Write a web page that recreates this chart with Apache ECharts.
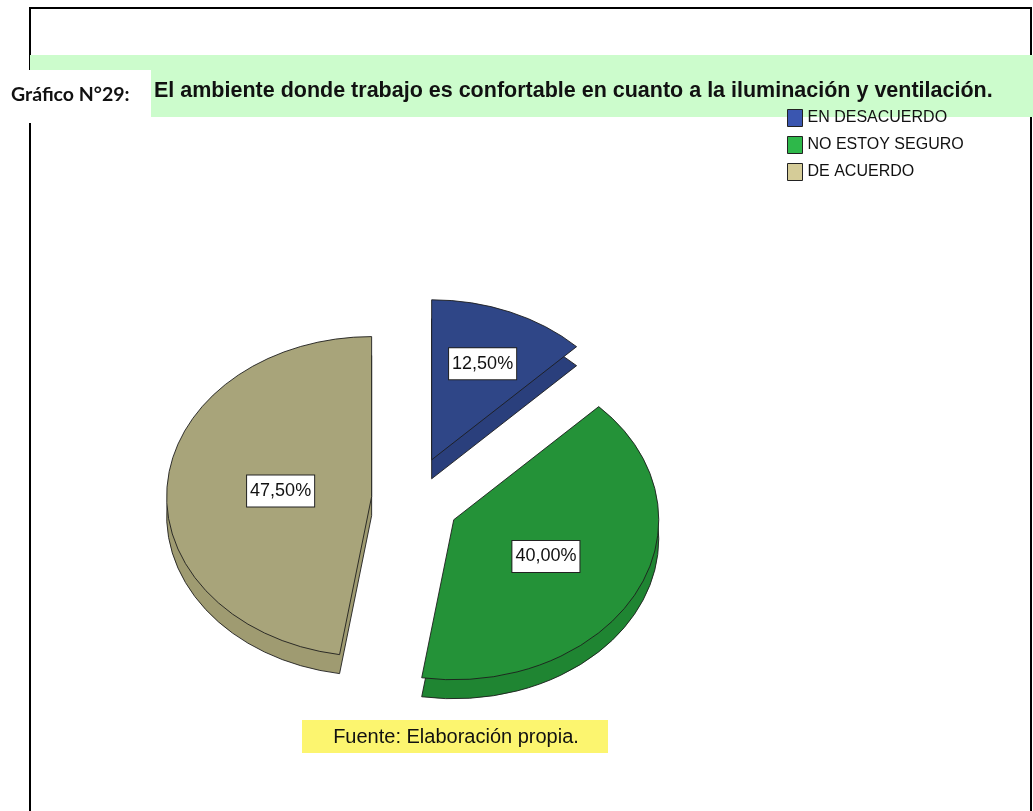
<!DOCTYPE html>
<html>
<head>
<meta charset="utf-8">
<script src="https://cdn.jsdelivr.net/npm/echarts@6/dist/echarts.min.js"></script>
<style>
  html, body { margin: 0; padding: 0; background: #fff; }
  #chart { width: 1033px; height: 811px; }
</style>
</head>
<body>
<div id="chart"></div>
<script>
// data
const categories = ['EN DESACUERDO', 'NO ESTOY SEGURO', 'DE ACUERDO'];
const values = [12.5, 40.0, 47.5];

// colours (pie top, pie side, legend swatch)
const topColors = ['#2f4687', '#249238', '#a8a47a'];
const sideColors = ['#2a3f7c', '#1f8532', '#9f9b71'];
const legendColors = ['#3a56b0', '#2eb84a', '#d5cc98'];

const FONT = "'Liberation Sans', Arial, sans-serif";

// pie geometry (SPSS style tilted, exploded pie)
const PIE = { cx: 415, cy: 500, rx: 205, ry: 160, depth: 19, explode: 43.5 };

const total = values.reduce((a, b) => a + b, 0);

function pctLabel(v) {
    return (v / total * 100).toFixed(2).replace('.', ',') + '%';
}

function makeSlice(i) {
    return function (params, api) {
        const v = api.value(0);
        const before = values.slice(0, i).reduce((a, b) => a + b, 0);
        const a0 = before / total * Math.PI * 2;
        const a1 = (before + v) / total * Math.PI * 2;
        const mid = (a0 + a1) / 2;
        // explode along the middle angle (clockwise from 12 o'clock)
        const ox = PIE.cx + PIE.explode * Math.sin(mid);
        const oy = PIE.cy - PIE.explode * Math.cos(mid);
        const k = PIE.ry / PIE.rx;

        const sector = (dy, fill) => ({
            type: 'sector',
            x: ox,
            y: oy + dy,
            scaleY: k,
            shape: {
                cx: 0, cy: 0, r0: 0, r: PIE.rx,
                startAngle: a0 - Math.PI / 2,
                endAngle: a1 - Math.PI / 2,
                clockwise: true
            },
            style: { fill: fill, stroke: '#1c1c1c', lineWidth: 1, strokeNoScale: true }
        });

        // label at the centroid of the slice
        const alpha = a1 - a0;
        const c = 4 * Math.sin(alpha / 2) / (3 * alpha);
        const lx = ox + c * PIE.rx * Math.sin(mid);
        const ly = oy - c * PIE.ry * Math.cos(mid);

        return {
            type: 'group',
            children: [
                sector(PIE.depth, sideColors[i]),
                sector(0, topColors[i]),
                {
                    type: 'text',
                    x: lx,
                    y: ly,
                    z2: 10,
                    style: {
                        text: pctLabel(v),
                        fontFamily: FONT,
                        fontSize: 18,
                        fill: '#111',
                        align: 'center',
                        verticalAlign: 'middle',
                        backgroundColor: '#fff',
                        borderColor: '#222',
                        borderWidth: 1,
                        padding: [7, 3, 6, 3]
                    }
                }
            ]
        };
    };
}

const chart = echarts.init(document.getElementById('chart'));

const option = {
    animation: false,
    backgroundColor: '#fff',
    title: {
        text: 'El ambiente donde trabajo es confortable en cuanto a la iluminación y ventilación.',
        left: 154,
        top: 80,
        padding: 0,
        textStyle: { fontFamily: FONT, fontSize: 21.5, fontWeight: 'bold', color: '#111' }
    },
    legend: {
        orient: 'vertical',
        left: 787,
        top: 109,
        padding: 0,
        icon: 'rect',
        itemWidth: 15,
        itemHeight: 17,
        itemGap: 9,
        selectedMode: false,
        textStyle: { fontFamily: FONT, fontSize: 16, color: '#111' },
        data: categories.map((name, i) => ({
            name: name,
            itemStyle: { color: legendColors[i], borderColor: '#222', borderWidth: 1 }
        }))
    },
    graphic: [
        // page frame
        { type: 'rect', z: -10, shape: { x: 30, y: 8, width: 1001, height: 830 },
          style: { fill: 'none', stroke: '#000', lineWidth: 2 } },
        // green title band
        { type: 'rect', z: -9, shape: { x: 30, y: 55, width: 1003, height: 62 },
          style: { fill: '#ccfccc' } },
        // white box behind the figure number
        { type: 'rect', z: -8, shape: { x: 0, y: 70, width: 151, height: 53 },
          style: { fill: '#fff' } },
        { type: 'text', z: -7, x: 11, y: 95,
          style: { text: 'Gráfico N°29:', fontFamily: 'Lato, sans-serif', fontSize: 19.5,
                   fontWeight: 'bold', fill: '#111', verticalAlign: 'middle' } },
        // source note
        { type: 'rect', z: -8, shape: { x: 302, y: 720, width: 306, height: 33 },
          style: { fill: '#fcf56f' } },
        { type: 'text', z: -7, x: 456, y: 737,
          style: { text: 'Fuente: Elaboración propia.', fontFamily: FONT, fontSize: 20,
                   fill: '#111', align: 'center', verticalAlign: 'middle' } }
    ],
    series: categories.map((name, i) => ({
        type: 'custom',
        name: name,
        coordinateSystem: 'none',
        silent: true,
        itemStyle: { color: topColors[i] },
        data: [values[i]],
        renderItem: makeSlice(i)
    }))
};

chart.setOption(option);
</script>
</body>
</html>
